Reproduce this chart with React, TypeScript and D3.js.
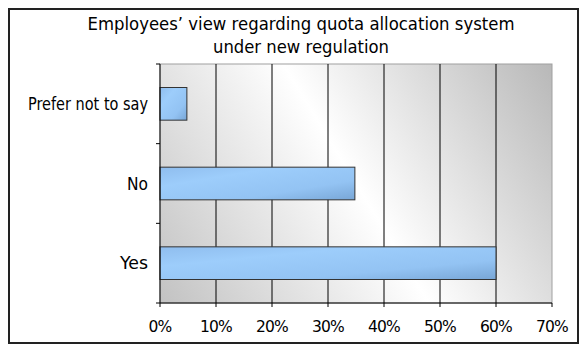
import { useMemo } from "react";
import * as d3 from "d3";

const W = 588;
const H = 351;
const PAD = { top: 64, right: 36, bottom: 48, left: 160 };

const categories = ["Prefer not to say", "No", "Yes"];
const values = [4.8, 34.8, 60];
const xTicks = [0, 10, 20, 30, 40, 50, 60, 70];
const titleLines = ["Employees’ view regarding quota allocation system", "under new regulation"];

const FONT = "'DejaVu Sans', Verdana, sans-serif";

// the source renders a narrow Verdana-like face, squeeze DejaVu to the same widths
const labelWidth: Record<string, number> = { "Prefer not to say": 120, No: 21, Yes: 28 };
const titleWidth = [427, 176];

export default function App() {
  const x = useMemo(
    () => d3.scaleLinear().domain([0, 70]).range([PAD.left, W - PAD.right]),
    [],
  );
  const y = useMemo(
    () =>
      d3
        .scaleBand()
        .domain(categories)
        .range([PAD.top, H - PAD.bottom])
        .paddingInner(0.59)
        .paddingOuter(0.295),
    [],
  );
  const bounds = useMemo(
    () => d3.scaleBand().domain(categories).range([PAD.top, H - PAD.bottom]),
    [],
  );

  const x0 = x(0);
  const x1 = x(70);
  const y0 = PAD.top;
  const y1 = H - PAD.bottom;
  const tickYs = [...categories.map((c) => bounds(c)!), y1];

  return (
    <svg
      width={W}
      height={H}
      style={{ position: "absolute", left: 0, top: 0, background: "#fff" }}
      fontFamily={FONT}
    >
      <defs>
        <linearGradient id="plotBg" gradientUnits="userSpaceOnUse" x1={x0} y1={y1} x2={x1} y2={y0}>
          <stop offset="0" stopColor="#c2c2c2" />
          <stop offset="0.5" stopColor="#ffffff" />
          <stop offset="1" stopColor="#b8b8b8" />
        </linearGradient>
        <linearGradient id="barFill" x1="0" y1="0" x2="1" y2="1">
          <stop offset="0" stopColor="#8fbdee" />
          <stop offset="0.3" stopColor="#9dcdfb" />
          <stop offset="0.7" stopColor="#93c3f3" />
          <stop offset="1" stopColor="#78a6d6" />
        </linearGradient>
      </defs>

      <rect x={9} y={9} width={569} height={334} fill="#fff" stroke="#222" strokeWidth={2} />

      {titleLines.map((t, i) => (
        <text
          key={i}
          x={301}
          y={30 + i * 23}
          textAnchor="middle"
          fontSize={18}
          fill="#000"
          textLength={titleWidth[i]}
          lengthAdjust="spacingAndGlyphs"
        >
          {t}
        </text>
      ))}

      <rect x={x0} y={y0} width={x1 - x0} height={y1 - y0} fill="url(#plotBg)" stroke="#a0a0a0" />

      {xTicks.slice(1, -1).map((t) => (
        <line key={t} x1={x(t)} x2={x(t)} y1={y0} y2={y1} stroke="#000" />
      ))}

      {categories.map((c, i) => (
        <rect
          key={c}
          x={x0}
          y={y(c)!}
          width={x(values[i]) - x0}
          height={y.bandwidth()}
          fill="url(#barFill)"
          stroke="#333"
        />
      ))}

      <line x1={x0} x2={x0} y1={y0} y2={y1} stroke="#000" />
      <line x1={x0} x2={x1} y1={y1} y2={y1} stroke="#000" />
      {tickYs.map((ty, i) => (
        <line key={i} x1={x0 - 4} x2={x0} y1={ty} y2={ty} stroke="#000" />
      ))}
      {xTicks.map((t) => (
        <g key={t}>
          <line x1={x(t)} x2={x(t)} y1={y1} y2={y1 + 4} stroke="#000" />
          <text
            x={x(t)}
            y={332}
            textAnchor="middle"
            fontSize={15.5}
            letterSpacing={-0.8}
            fill="#000"
          >
            {t}%
          </text>
        </g>
      ))}

      {categories.map((c) => (
        <text
          key={c}
          x={148}
          y={y(c)! + y.bandwidth() / 2 + 6}
          textAnchor="end"
          fontSize={17.5}
          fill="#000"
          textLength={labelWidth[c]}
          lengthAdjust="spacingAndGlyphs"
        >
          {c}
        </text>
      ))}
    </svg>
  );
}
